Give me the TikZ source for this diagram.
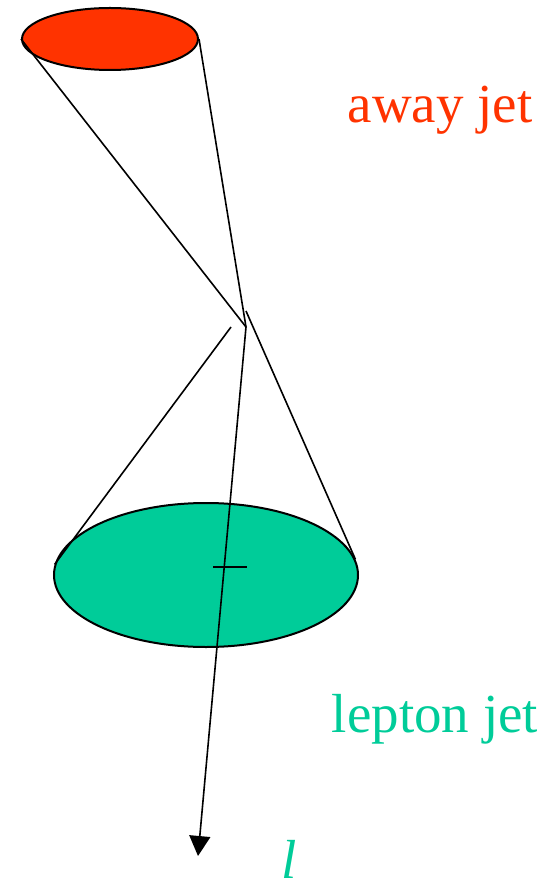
\documentclass[tikz,border=0pt]{standalone}
\usepackage{fontspec}
\setmainfont{Liberation Serif}
\usetikzlibrary{arrows.meta, shapes.geometric}
\definecolor{rougejet}{HTML}{FF3300}
\definecolor{vertjet}{HTML}{00CC99}
\tikzset{
  disque/.style={ellipse, draw=black, line width=1pt, inner sep=0pt},
  trait/.style={line width=0.8pt, color=black},
  fleche/.style={trait, -{Triangle[length=10pt, width=10.5pt]}},
  legende/.style={font=\fontsize{27.5}{33}\selectfont, anchor=base, inner sep=0pt}
}
\begin{document}
\begin{tikzpicture}[x=0.5pt, y=-0.5pt]
  \useasboundingbox (0,0) rectangle (557,892);

  % les deux jets
  \node[disque, fill=rougejet, minimum width=88pt, minimum height=31pt] (away) at (110,39) {};
  \node[disque, fill=vertjet, minimum width=152pt, minimum height=72pt] (lepton) at (206,575) {};

  \coordinate (apex) at (246,327);
  \coordinate (gauche) at (231,327);
  \coordinate (droite) at (246,311);
  \coordinate (bout) at (198,856);

  % cone du jet oppose
  \draw[trait] (away.west) -- (apex);
  \draw[trait] (away.east) -- (apex);

  % cone du jet lepton
  \draw[trait] (gauche) -- (lepton.176);
  \draw[trait] (droite) -- (lepton.6);
  \draw[trait] (213,567) -- (247,567);

  % lepton
  \draw[fleche] (apex) -- (bout);

  \node[legende, text=rougejet] (txtaway) at (440,123) {away jet};
  \node[legende, text=vertjet] (txtlepton) at (435,732) {lepton jet};
  \node[legende, text=vertjet] (txtl) at (289,878) {\textit{l}};
\end{tikzpicture}
\end{document}
